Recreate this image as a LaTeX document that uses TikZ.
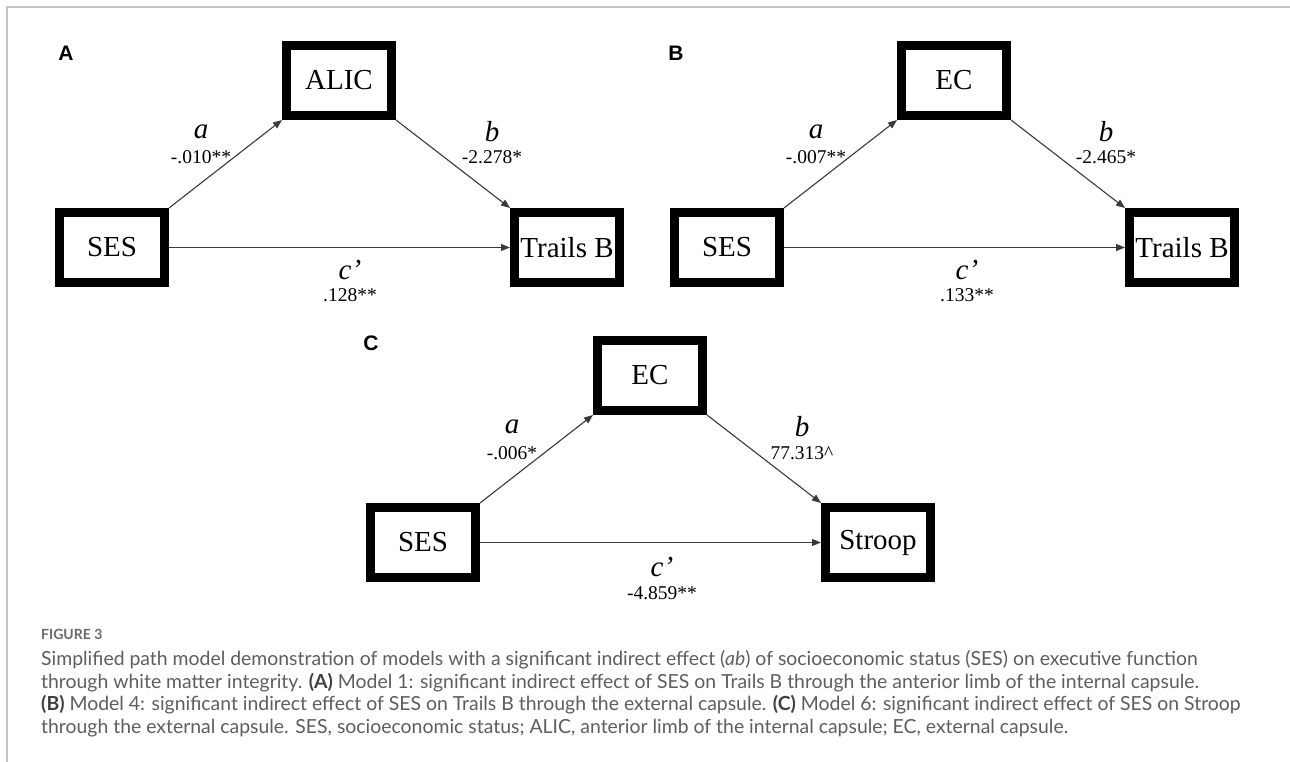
\documentclass[tikz,border=0pt]{standalone}
\usepackage{fontspec}
\setmainfont{Liberation Serif}
\newfontfamily\capfont{Lato}
\newfontfamily\labfont{Liberation Sans}
\usetikzlibrary{arrows.meta}
\definecolor{frame}{HTML}{C4C4C4}
\definecolor{captxt}{HTML}{5E5E5E}
\definecolor{capfig}{HTML}{6A6A6A}
\definecolor{arrcol}{HTML}{3A3A3A}
\tikzset{
  box/.style={draw=black, line width=9pt, minimum width=105pt, minimum height=70pt,
    inner sep=0pt, outer sep=4.5pt, font=\fontsize{29}{29}\selectfont},
  arr/.style={draw=arrcol, line width=1.1pt, -{Triangle[length=9pt,width=7pt]}},
  pathlab/.style={inner sep=0pt, font=\fontsize{29}{29}\selectfont\itshape},
  pathval/.style={inner sep=0pt, font=\fontsize{19.5}{19.5}\selectfont},
  panellab/.style={inner sep=0pt, font=\labfont\bfseries\fontsize{21}{21}\selectfont},
  capline/.style={anchor=base west, inner sep=0pt, text=captxt, font=\capfont\fontsize{19.4}{19.4}\selectfont}
}
\begin{document}
\begin{tikzpicture}[x=1pt,y=-1pt]
\useasboundingbox (0,0) rectangle (1290,762);
\fill[white] (0,0) rectangle (1290,762);
% frame lines
\draw[frame, line width=1.6pt] (7,762) -- (7,7) -- (1290,7);

% ---------- Panel A ----------
\node[panellab] (labA) at (66,53) {A};
\node[box] (sesA) at (112,247.5) {SES};
\node[box] (alicA) at (339,80.5) {ALIC};
\node[box] (trA) at (567,247.5) {Trails B};
\draw[arr] (sesA.north east) -- (alicA.south west);
\draw[arr] (alicA.south east) -- (trA.north west);
\draw[arr] (sesA.east) -- (trA.west);
\node[pathlab] (aA) at (201,132) {a};
\node[pathval] (avA) at (201,157) {-.010**};
\node[pathlab] (bA) at (492,132) {b};
\node[pathval] (bvA) at (492,157) {-2.278*};
\node[pathlab] (cA) at (350,270) {c’};
\node[pathval] (cvA) at (350,295) {.128**};

% ---------- Panel B ----------
\node[panellab] (labB) at (676,53) {B};
\node[box] (sesB) at (727,247.5) {SES};
\node[box] (ecB) at (954,80.5) {EC};
\node[box] (trB) at (1182,247.5) {Trails B};
\draw[arr] (sesB.north east) -- (ecB.south west);
\draw[arr] (ecB.south east) -- (trB.north west);
\draw[arr] (sesB.east) -- (trB.west);
\node[pathlab] (aB) at (816,132) {a};
\node[pathval] (avB) at (816,157) {-.007**};
\node[pathlab] (bB) at (1106,132) {b};
\node[pathval] (bvB) at (1106,157) {-2.465*};
\node[pathlab] (cB) at (967,270) {c’};
\node[pathval] (cvB) at (967,295) {.133**};

% ---------- Panel C ----------
\node[panellab] (labC) at (371,343) {C};
\node[box] (sesC) at (423,542.5) {SES};
\node[box] (ecC) at (650,375.5) {EC};
\node[box] (stC) at (878,542.5) {Stroop};
\draw[arr] (sesC.north east) -- (ecC.south west);
\draw[arr] (ecC.south east) -- (stC.north west);
\draw[arr] (sesC.east) -- (stC.west);
\node[pathlab] (aC) at (512,427) {a};
\node[pathval] (avC) at (512,453) {-.006*};
\node[pathlab] (bC) at (802,427) {b};
\node[pathval] (bvC) at (802,453) {77.313\^{}};
\node[pathlab] (cC) at (662,567) {c’};
\node[pathval] (cvC) at (662,593) {-4.859**};

% ---------- Caption ----------
\node[anchor=base west, inner sep=0pt, text=capfig, font=\capfont\bfseries\fontsize{14}{14}\selectfont] (fig) at (41,639) {FIGURE 3};
\node[capline] (cap1) at (41,665) {Simplified path model demonstration of models with a significant indirect effect (\textit{ab}) of socioeconomic status (SES) on executive function};
\node[capline] (cap2) at (41,688) {through white matter integrity. \textcolor{black!75}{\bfseries(A)} Model 1: significant indirect effect of SES on Trails B through the anterior limb of the internal capsule.};
\node[capline] (cap3) at (41,710.5) {\textcolor{black!75}{\bfseries(B)} Model 4: significant indirect effect of SES on Trails B through the external capsule. \textcolor{black!75}{\bfseries(C)} Model 6: significant indirect effect of SES on Stroop};
\node[capline] (cap4) at (41,733.5) {through the external capsule. SES, socioeconomic status; ALIC, anterior limb of the internal capsule; EC, external capsule.};
\end{tikzpicture}
\end{document}
